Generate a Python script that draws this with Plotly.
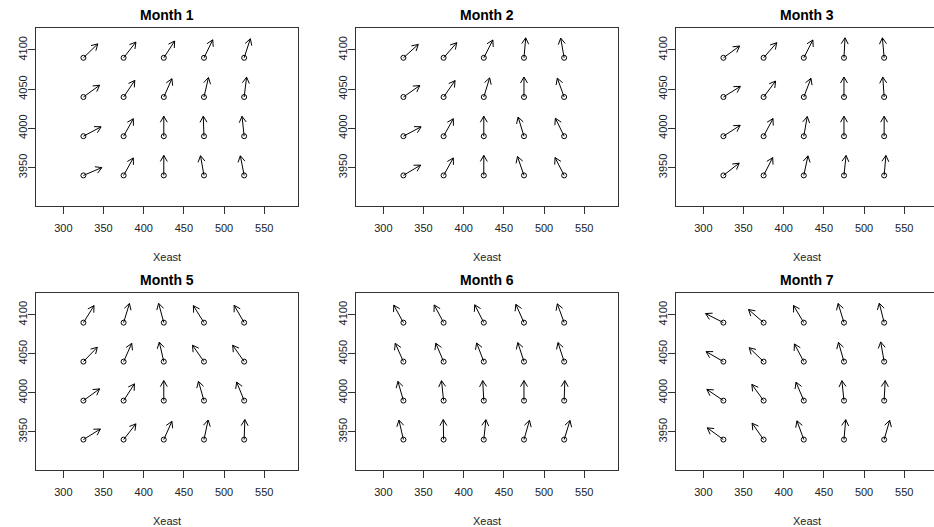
import math
import plotly.graph_objects as go

# ---- data ----
months = ["Month 1", "Month 2", "Month 3", "Month 5", "Month 6", "Month 7"]
xeast = [325, 375, 425, 475, 525]
ynorth = [4090, 4040, 3990, 3940]  # rows top -> bottom

# arrow bearings (degrees clockwise from north), rows top->bottom, cols left->right
bearing_m1 = [[46, 38, 33, 26, 18],
              [54, 34, 24, 13, 7],
              [62, 29, 0, -2, -6],
              [67, 29, 0, -10, -11]]
bearing_m2 = [[48, 41, 27, 5, -10],
              [55, 35, 17, 0, -20],
              [62, 29, 0, -17, -26],
              [59, 29, 0, -19, -27]]
bearing_m3 = [[54, 41, 27, 3, -5],
              [58, 37, 21, 0, -4],
              [57, 28, 10, 0, 0],
              [52, 27, 12, 6, 5]]
bearing_m5 = [[32, 17, -15, -32, -30],
              [44, 24, -13, -35, -35],
              [54, 33, 0, -16, -22],
              [58, 38, 24, 12, 2]]
bearing_m6 = [[-29, -28, -27, -24, -20],
              [-24, -23, -21, -18, -18],
              [-16, -6, -3, 0, 2],
              [-13, -1, 6, 16, 17]]
bearing_m7 = [[-63, -49, -31, -17, -14],
              [-60, -46, -28, -16, -10],
              [-56, -36, -23, -6, 3],
              [-54, -35, -20, 5, 16]]
bearings = [bearing_m1, bearing_m2, bearing_m3, bearing_m5, bearing_m6, bearing_m7]

x_ticks = [300, 350, 400, 450, 500, 550]
y_ticks = [3950, 4000, 4050, 4100]

# ---- layout geometry (pixels) ----
W, H = 934, 527
col_px = [(36, 298), (356, 618), (676, 934)]
row_px = [(28, 206), (293, 470)]
XR = (266, 592)
YR = (3901, 4128)
ARROW_PX = 20
HEAD_PX = 7
HEAD_ANG = math.radians(30)
FONT = "Liberation Sans, Arial, Helvetica, sans-serif"

fig = go.Figure()
annotations = []

for i, name in enumerate(months):
    r, c = divmod(i, 3)
    x0p, x1p = col_px[c]
    y0p, y1p = row_px[r]
    xr = (XR[0], XR[0] + (x1p - x0p) * (XR[1] - XR[0]) / 262.0)
    sx = (x1p - x0p) / (xr[1] - xr[0])
    sy = (y1p - y0p) / (YR[1] - YR[0])
    k = i + 1
    xa = "x" if k == 1 else f"x{k}"
    ya = "y" if k == 1 else f"y{k}"

    ax_x, ax_y, px, py = [], [], [], []
    for ri, yv in enumerate(ynorth):
        for ci, xv in enumerate(xeast):
            th = math.radians(bearings[i][ri][ci])
            dx, dy = math.sin(th), math.cos(th)
            ex = xv + ARROW_PX * dx / sx
            ey = yv + ARROW_PX * dy / sy
            ax_x += [xv, ex, None]
            ax_y += [yv, ey, None]
            for s in (1, -1):
                a = math.atan2(-dy, -dx) + s * HEAD_ANG
                bx = ex + HEAD_PX * math.cos(a) / sx
                by = ey + HEAD_PX * math.sin(a) / sy
                ax_x += [ex, bx, None]
                ax_y += [ey, by, None]
            px.append(xv)
            py.append(yv)

    fig.add_trace(go.Scatter(x=ax_x, y=ax_y, mode="lines", xaxis=xa, yaxis=ya,
                             line=dict(color="black", width=1), hoverinfo="skip",
                             showlegend=False))
    fig.add_trace(go.Scatter(x=px, y=py, mode="markers", xaxis=xa, yaxis=ya,
                             marker=dict(symbol="circle-open", size=5,
                                         color="black", line=dict(width=1)),
                             showlegend=False))

    axis_common = dict(showgrid=False, zeroline=False, showline=True, automargin=False,
                       linecolor="#333", linewidth=1, ticks="outside", ticklen=7,
                       tickcolor="#333", tickfont=dict(family=FONT, size=11, color="#222"))
    fig.update_layout(**{
        ("xaxis" if k == 1 else f"xaxis{k}"): dict(
            domain=[x0p / W, x1p / W], range=list(xr), anchor=ya,
            tickvals=x_ticks, mirror=True, ticklabelstandoff=5, **axis_common),
        ("yaxis" if k == 1 else f"yaxis{k}"): dict(
            domain=[1 - y1p / H, 1 - y0p / H], range=list(YR), anchor=xa,
            tickvals=y_ticks, tickangle=-90, mirror=(c != 2),
            ticklabelstandoff=-3, **axis_common),
    })
    cx = (x0p + 131) / W
    annotations.append(dict(text="<b>" + name + "</b>", x=cx, y=1 - (y0p - 13) / H,
                            xref="paper", yref="paper", showarrow=False,
                            font=dict(family=FONT, size=14, color="black"),
                            xanchor="center", yanchor="middle"))
    annotations.append(dict(text="Xeast", x=cx, y=1 - (y1p + 51) / H,
                            xref="paper", yref="paper", showarrow=False,
                            font=dict(family=FONT, size=11, color="#222"),
                            xanchor="center", yanchor="middle"))

fig.update_layout(width=W, height=H, margin=dict(l=0, r=0, t=0, b=0),
                  paper_bgcolor="white", plot_bgcolor="white",
                  annotations=annotations, showlegend=False)
fig.write_html("out.html", config={"displayModeBar": False},
               post_script="document.body.style.margin='0px';"
                           "document.body.style.overflow='hidden';")
